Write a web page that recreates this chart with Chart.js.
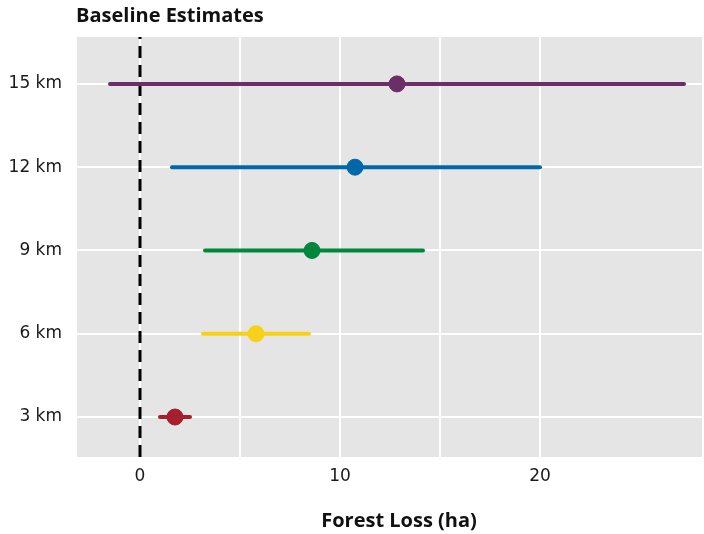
<!DOCTYPE html>
<html>
<head>
<meta charset="utf-8">
<title>Baseline Estimates</title>
<script src="https://cdn.jsdelivr.net/npm/chart.js@4/dist/chart.umd.min.js"></script>
<style>
	body { margin: 0; background: #ffffff; }
	#wrap { width: 704px; height: 534px; }
</style>
</head>
<body>
<div id="wrap"><canvas id="myChart" width="704" height="534"></canvas></div>
<script>
	// data
	const distanceLabels = ['3 km', '6 km', '9 km', '12 km', '15 km'];
	const distanceValues = [3, 6, 9, 12, 15];
	const estimates = [1.75, 5.8, 8.6, 10.75, 12.85];
	const lowerBounds = [1.0, 3.15, 3.25, 1.6, -1.5];
	const upperBounds = [2.5, 8.45, 14.15, 20.0, 27.2];
	const seriesColors = ['#a51f2d', '#f7d117', '#00873c', '#0067a9', '#6a2f66'];

	const tickFont = '"DejaVu Sans", sans-serif';
	const titleFont = '"Open Sans", sans-serif';

	// grey panel behind the plot, like ggplot
	const panelBg = {
		id: 'panelBg',
		beforeDraw(chart) {
			const a = chart.chartArea;
			const ctx = chart.ctx;
			ctx.save();
			ctx.fillStyle = '#e5e5e5';
			ctx.fillRect(a.left, a.top, a.right - a.left, a.bottom - a.top);
			ctx.restore();
		}
	};

	// plot title top left, axis title below (slightly right of centre like the original)
	const titles = {
		id: 'titles',
		afterDraw(chart) {
			const ctx = chart.ctx;
			const a = chart.chartArea;
			ctx.save();
			ctx.font = 'bold 20px ' + titleFont;
			ctx.fillStyle = '#111111';
			ctx.textBaseline = 'middle';
			ctx.textAlign = 'left';
			ctx.fillText('Baseline Estimates', a.left, 16);
			ctx.textAlign = 'center';
			ctx.fillText('Forest Loss (ha)', (a.left + a.right) / 2 + 9.5, 521);
			ctx.restore();
		}
	};

	let datasets = [];
	// points on top
	for (let i = 0; i < estimates.length; i++) {
		datasets.push({
			type: 'scatter',
			data: [{ x: estimates[i], y: distanceValues[i] }],
			backgroundColor: seriesColors[i],
			borderColor: seriesColors[i],
			pointRadius: 8,
			pointHoverRadius: 8,
			order: 0
		});
	}
	// interval lines
	for (let i = 0; i < estimates.length; i++) {
		datasets.push({
			type: 'line',
			data: [{ x: lowerBounds[i], y: distanceValues[i] }, { x: upperBounds[i], y: distanceValues[i] }],
			borderColor: seriesColors[i],
			borderWidth: 4,
			borderCapStyle: 'round',
			pointRadius: 0,
			fill: false,
			order: 1
		});
	}
	// dashed zero line
	datasets.push({
		type: 'line',
		data: [{ x: 0, y: 1.56 }, { x: 0, y: 16.69 }],
		borderColor: '#000000',
		borderWidth: 3,
		borderDash: [12, 7],
		pointRadius: 0,
		fill: false,
		order: 2
	});

	new Chart(document.getElementById('myChart'), {
		type: 'scatter',
		data: { datasets: datasets },
		options: {
			responsive: false,
			animation: false,
			layout: { autoPadding: false, padding: { top: 37, right: 1, left: 0, bottom: 0 } },
			plugins: {
				legend: { display: false },
				tooltip: { enabled: false }
			},
			scales: {
				x: {
					type: 'linear',
					min: -3.2,
					max: 28.15,
					border: { display: false },
					grid: { color: '#ffffff', lineWidth: 2, drawTicks: false },
					ticks: {
						stepSize: 5,
						padding: 9,
						color: '#1a1a1a',
						font: { family: tickFont, size: 17 },
						callback: function (v) { return v % 10 === 0 ? String(v) : ''; }
					},
					afterFit: function (scale) {
						scale.height = 77;
						scale.paddingLeft = 0;
						scale.paddingRight = 0;
					}
				},
				y: {
					type: 'linear',
					min: 1.56,
					max: 16.69,
					border: { display: false },
					grid: { color: '#ffffff', lineWidth: 2, drawTicks: false },
					afterBuildTicks: function (scale) {
						scale.ticks = distanceValues.map(v => ({ value: v }));
					},
					ticks: {
						padding: 14,
						color: '#1a1a1a',
						font: { family: tickFont, size: 17 },
						callback: function (v) {
							let idx = distanceValues.indexOf(v);
							return idx >= 0 ? distanceLabels[idx] : '';
						}
					},
					afterFit: function (scale) {
						scale.width = 76;
						scale.paddingTop = 0;
						scale.paddingBottom = 0;
					}
				}
			}
		},
		plugins: [panelBg, titles]
	});
</script>
</body>
</html>
